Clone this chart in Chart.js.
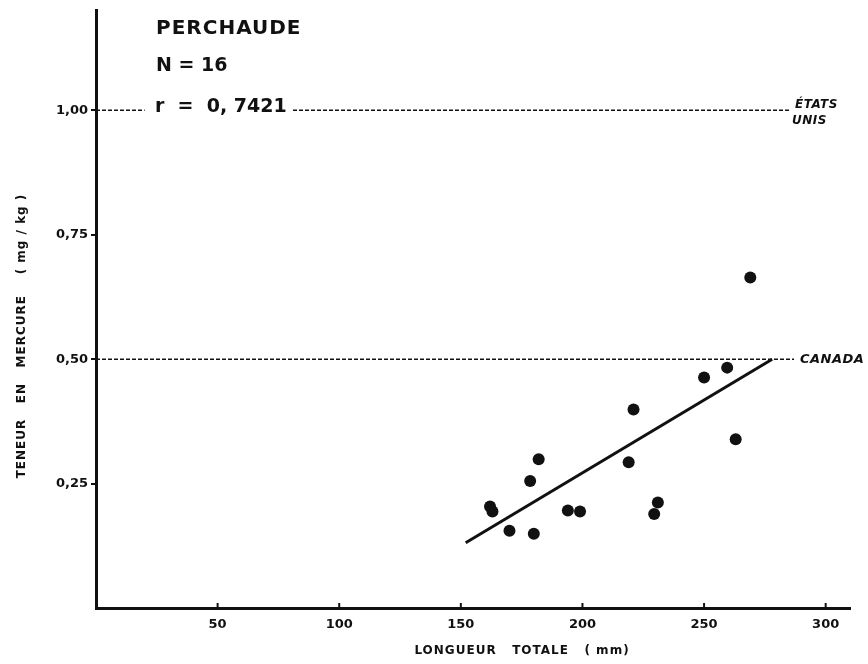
<!DOCTYPE html>
<html lang="fr">
<head>
<meta charset="UTF-8">
<title>Perchaude – teneur en mercure</title>
<script src="https://cdn.jsdelivr.net/npm/chart.js"></script>
<style>
  html, body { margin: 0; padding: 0; background: #fff; }
  #chart { display: block; }
</style>
</head>
<body>
<canvas id="chart" width="868" height="664"></canvas>
<script>
  // longueur totale (mm) et teneur en mercure (mg/kg), 16 perchaudes
  const longueur = [162, 163, 170, 180, 178.5, 182, 194, 199, 221, 219, 229.5, 231, 250, 259.5, 263, 269];
  const mercure = [0.204, 0.194, 0.155, 0.149, 0.255, 0.299, 0.196, 0.194, 0.399, 0.293, 0.189, 0.212, 0.463, 0.483, 0.339, 0.664];

  // droite de régression
  const droiteX = [152, 278];
  const droiteY = [0.131, 0.5];

  // normes (mg/kg)
  const normeEtatsUnis = 1.0;
  const normeCanada = 0.5;

  const xTicks = [50, 100, 150, 200, 250, 300];
  const yTicks = [0.25, 0.5, 0.75, 1.0];

  const ink = '#111';
  const lettering = '"DejaVu Sans", sans-serif';

  const points = longueur.map((x, i) => ({ x: x, y: mercure[i] }));
  const droite = droiteX.map((x, i) => ({ x: x, y: droiteY[i] }));

  // la ligne des États-Unis est interrompue par le texte « r = ... »
  const ligneEU = [
    { x: 0, y: normeEtatsUnis }, { x: 20, y: normeEtatsUnis },
    { x: 50, y: null },
    { x: 81, y: normeEtatsUnis }, { x: 285, y: normeEtatsUnis }
  ];
  const ligneCanada = [{ x: 0, y: normeCanada }, { x: 287, y: normeCanada }];

  function spaced(ctx, text, x, y, spacing) {
    ctx.letterSpacing = spacing + 'px';
    ctx.fillText(text, x, y);
    ctx.letterSpacing = '0px';
  }

  const annotations = {
    id: 'annotations',
    afterDraw(chart) {
      const { ctx, scales: { x, y } } = chart;
      ctx.save();
      ctx.fillStyle = ink;
      ctx.strokeStyle = ink;

      // petits traits de graduation vers l'intérieur sur l'axe des x
      ctx.lineWidth = 2;
      xTicks.forEach(v => {
        const px = x.getPixelForValue(v);
        ctx.beginPath();
        ctx.moveTo(px, y.bottom);
        ctx.lineTo(px, y.bottom - 5);
        ctx.stroke();
      });

      // encadré
      ctx.textAlign = 'left';
      ctx.textBaseline = 'alphabetic';
      ctx.font = 'bold 20px ' + lettering;
      spaced(ctx, 'PERCHAUDE', 156, 34, 1);
      ctx.font = 'bold 19px ' + lettering;
      spaced(ctx, 'N = 16', 156, 71, 0);
      spaced(ctx, 'r  =  0, 7421', 155, 112, 0);

      // étiquettes des normes
      ctx.font = 'italic bold 12px ' + lettering;
      const yEU = y.getPixelForValue(normeEtatsUnis);
      spaced(ctx, 'ÉTATS', 795, yEU - 2, 0.5);
      spaced(ctx, 'UNIS', 792, yEU + 14, 0.5);
      ctx.font = 'italic bold 13px ' + lettering;
      ctx.textBaseline = 'middle';
      spaced(ctx, 'CANADA', 800, y.getPixelForValue(normeCanada), 0.5);

      // titres des axes
      ctx.font = 'bold 12px ' + lettering;
      ctx.textAlign = 'center';
      ctx.textBaseline = 'middle';
      spaced(ctx, 'LONGUEUR   TOTALE   ( mm)', 522, 651, 1);

      ctx.translate(22, 336);
      ctx.rotate(-Math.PI / 2);
      spaced(ctx, 'TENEUR   EN   MERCURE    ( mg / kg )', 0, 0, 1);
      ctx.restore();
    }
  };

  new Chart(document.getElementById('chart'), {
    type: 'scatter',
    data: {
      datasets: [
        {
          data: points,
          pointRadius: 6,
          pointBackgroundColor: ink,
          pointBorderWidth: 0
        },
        {
          type: 'line',
          data: droite,
          showLine: true,
          borderColor: ink,
          borderWidth: 3,
          pointRadius: 0
        },
        {
          type: 'line',
          data: ligneEU,
          showLine: true,
          spanGaps: false,
          borderColor: ink,
          borderWidth: 1.5,
          borderDash: [4, 2],
          pointRadius: 0
        },
        {
          type: 'line',
          data: ligneCanada,
          showLine: true,
          borderColor: ink,
          borderWidth: 1.5,
          borderDash: [4, 2],
          pointRadius: 0
        }
      ]
    },
    options: {
      responsive: false,
      animation: false,
      devicePixelRatio: 1,
      layout: { padding: { top: 8, right: 18, left: 0, bottom: 0 } },
      plugins: { legend: { display: false }, tooltip: { enabled: false } },
      scales: {
        x: {
          type: 'linear',
          min: 0,
          max: 310,
          afterFit: s => { s.height = 56; },
          afterBuildTicks: s => { s.ticks = xTicks.map(v => ({ value: v })); },
          border: { display: true, color: ink, width: 3 },
          grid: { drawOnChartArea: false, drawTicks: false },
          ticks: {
            padding: 9,
            color: ink,
            font: { family: lettering, size: 13, weight: 'bold' },
            callback: v => String(v)
          }
        },
        y: {
          type: 'linear',
          min: 0,
          max: 1.2,
          afterFit: s => { s.width = 96; },
          afterBuildTicks: s => { s.ticks = yTicks.map(v => ({ value: v })); },
          border: { display: true, color: ink, width: 3 },
          grid: { drawOnChartArea: false, drawTicks: true, tickLength: 5, tickColor: ink, lineWidth: 2 },
          ticks: {
            padding: 3,
            color: ink,
            font: { family: lettering, size: 13, weight: 'bold' },
            callback: v => v.toFixed(2).replace('.', ',')
          }
        }
      }
    },
    plugins: [annotations]
  });
</script>
</body>
</html>
